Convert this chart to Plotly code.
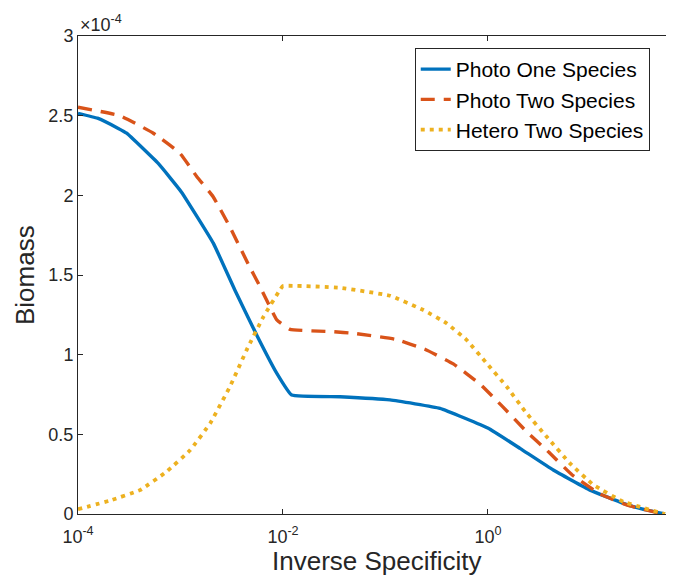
import numpy as np
import plotly.graph_objects as go

# Inverse specificity sample positions (log10) and biomass values (x 1e-4)
photo_one_logx = [-4.0, -3.81, -3.607, -3.525, -3.217, -2.99, -2.68, -2.47, -2.257, -2.06,
                  -1.915, -1.444, -0.956, -0.468, 0.003, 0.312, 0.637, 0.995, 1.32, 1.5, 1.727]
photo_one_y = [2.515, 2.484, 2.42, 2.39, 2.2, 2.02, 1.70, 1.406, 1.124, 0.883,
               0.747, 0.736, 0.716, 0.663, 0.538, 0.412, 0.276, 0.15, 0.067, 0.032, 0.0]

photo_two_logx = [-4.0, -3.59, -3.265, -3.005, -2.84, -2.68, -2.517, -2.34, -2.224, -2.06,
                  -1.932, -1.51, -1.314, -0.907, -0.615, -0.338, -0.078, 0.143, 0.367,
                  0.595, 0.822, 1.093, 1.376, 1.685, 1.727]
photo_two_y = [2.553, 2.50, 2.39, 2.264, 2.117, 1.99, 1.80, 1.57, 1.427, 1.218,
               1.159, 1.144, 1.134, 1.097, 1.034, 0.942, 0.816, 0.674, 0.523,
               0.387, 0.245, 0.126, 0.052, 0.004, 0.0]

hetero_two_logx = [-4.0, -3.69, -3.395, -3.135, -2.907, -2.71, -2.517, -2.354, -2.19, -2.03,
                   -2.0, -1.444, -0.956, -0.63, -0.404, -0.208, -0.013, 0.182, 0.377,
                   0.573, 0.80, 1.03, 1.32, 1.68, 1.727]
hetero_two_y = [0.03, 0.084, 0.15, 0.266, 0.40, 0.57, 0.80, 1.03, 1.239, 1.406,
                1.431, 1.42, 1.37, 1.28, 1.197, 1.092, 0.946, 0.80, 0.632,
                0.485, 0.318, 0.182, 0.077, 0.008, 0.0]

series_names = ["Photo One Species", "Photo Two Species", "Hetero Two Species"]
x_tick_vals = [1e-4, 1e-2, 1e0, 1e2]
x_tick_text = ["10<sup>-4</sup>", "10<sup>-2</sup>", "10<sup>0</sup>", "10<sup>2</sup>"]
y_tick_vals = [0, 0.5, 1, 1.5, 2, 2.5, 3]
y_tick_text = ["0", "0.5", "1", "1.5", "2", "2.5", "3"]

BLUE = "#0072BD"
RED = "#D95319"
YELLOW = "#EDB120"
AX = "#262626"
FONT = "Liberation Sans, Arial, Helvetica, sans-serif"

fig = go.Figure()
fig.add_trace(go.Scatter(x=10 ** np.array(photo_one_logx), y=photo_one_y, mode="lines",
                         name=series_names[0], line=dict(color=BLUE, width=3.4, shape="spline", smoothing=0.3)))
fig.add_trace(go.Scatter(x=10 ** np.array(photo_two_logx), y=photo_two_y, mode="lines",
                         name=series_names[1], line=dict(color=RED, width=3.4, dash="14px,9px", shape="spline", smoothing=0.3)))
fig.add_trace(go.Scatter(x=10 ** np.array(hetero_two_logx), y=hetero_two_y, mode="lines",
                         name=series_names[2], line=dict(color=YELLOW, width=3.8, dash="4px,5px", shape="spline", smoothing=0.3)))

fig.update_layout(
    width=666, height=567, autosize=False,
    margin=dict(l=70, r=0, t=28, b=61, autoexpand=False),
    paper_bgcolor="white", plot_bgcolor="white",
    font=dict(family=FONT, color=AX, size=18),
    showlegend=True,
    legend=dict(x=0.565, y=0.975, xanchor="left", yanchor="top",
                bgcolor="white", bordercolor=AX, borderwidth=1,
                font=dict(size=21, family=FONT, color="black"),
                tracegroupgap=0, itemwidth=30),
    xaxis=dict(type="log", range=[-4, 1.815], tickvals=x_tick_vals, ticktext=x_tick_text,
               ticks="inside", ticklen=5, tickcolor=AX, showline=True, linecolor=AX, linewidth=1,
               mirror="ticks", showgrid=False, zeroline=False, automargin=False,
               ticklabelstandoff=6,
               tickfont=dict(size=18, family=FONT, color=AX)),
    yaxis=dict(range=[0, 3], tickvals=y_tick_vals, ticktext=y_tick_text,
               ticks="inside", ticklen=5, tickcolor=AX, showline=True, linecolor=AX, linewidth=1,
               mirror=False, showgrid=False, zeroline=False, automargin=False,
               tickfont=dict(size=18, family=FONT, color=AX)),
    annotations=[
        dict(text="\u00d710<sup>-4</sup>", xref="paper", yref="paper", x=0.0, y=1.0,
             xanchor="left", yanchor="bottom", showarrow=False, yshift=-1,
             font=dict(size=18, family=FONT, color=AX)),
        dict(text="Inverse Specificity", xref="paper", yref="paper", x=0.5025, y=0.0,
             xanchor="center", yanchor="middle", showarrow=False, yshift=-47,
             font=dict(size=26, family=FONT, color=AX)),
        dict(text="Biomass", xref="paper", yref="paper", x=0.0, y=0.5,
             xanchor="center", yanchor="middle", showarrow=False, xshift=-53, textangle=-90,
             font=dict(size=26, family=FONT, color=AX)),
    ],
)

fig.write_html("out.html")
